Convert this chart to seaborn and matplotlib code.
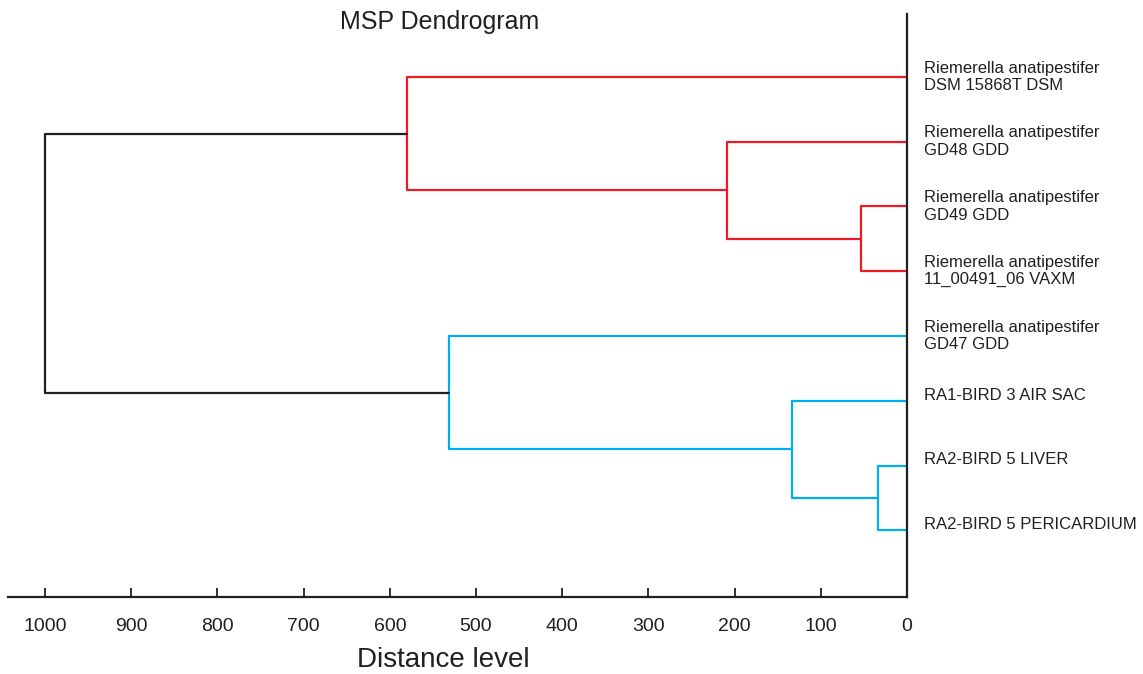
import pandas as pd
import seaborn as sns
import matplotlib.pyplot as plt

# leaf labels, top to bottom
leaf_labels = [
    "Riemerella anatipestifer\nDSM 15868T DSM",
    "Riemerella anatipestifer\nGD48 GDD",
    "Riemerella anatipestifer\nGD49 GDD",
    "Riemerella anatipestifer\n11_00491_06 VAXM",
    "Riemerella anatipestifer\nGD47 GDD",
    "RA1-BIRD 3 AIR SAC",
    "RA2-BIRD 5 LIVER",
    "RA2-BIRD 5 PERICARDIUM",
]

# linkage: child a, child b, distance level (new nodes numbered from 8)
merge_left = [2, 1, 0, 6, 5, 4, 10]
merge_right = [3, 8, 9, 7, 11, 12, 13]
merge_height = [53, 209, 580, 34, 134, 531, 1000]
merge_cluster = ["red", "red", "red", "blue", "blue", "blue", "root"]

palette = {"red": "#ED1C24", "blue": "#00AEEF", "root": "#231F20"}

# build the elbow segments
node_x = {i: 0.0 for i in range(len(leaf_labels))}
node_y = {i: float(i + 1) for i in range(len(leaf_labels))}
rows = []
for k, (a, b, h, c) in enumerate(zip(merge_left, merge_right, merge_height, merge_cluster)):
    pts = [(node_x[a], node_y[a]), (h, node_y[a]), (h, node_y[b]), (node_x[b], node_y[b])]
    for order, (px, py) in enumerate(pts):
        rows.append({"seg": k, "order": order, "x": px, "y": py, "cluster": c})
    new = len(leaf_labels) + k
    node_x[new] = h
    node_y[new] = (node_y[a] + node_y[b]) / 2
df = pd.DataFrame(rows)

sns.set_style("white")
plt.rcParams['font.family'] = ['Liberation Sans', 'DejaVu Sans']

fig = plt.figure(figsize=(11.43, 6.74), dpi=100)
ax = fig.add_axes([8 / 1143, 77 / 674, 899 / 1143, 583 / 674])

sns.lineplot(data=df, x="x", y="y", units="seg", hue="cluster", palette=palette,
             estimator=None, sort=False, lw=1.6, legend=False, ax=ax)

ax.set_xlim(1043, 0)
ax.set_ylim(9.03, 0.03)
ax.set_xticks(range(0, 1001, 100))
ax.set_yticks([])
ax.tick_params(axis="x", bottom=True, direction="in", length=6.5, width=1.3, pad=15,
               labelsize=14, colors="#231F20")

for side in ["left", "top"]:
    ax.spines[side].set_visible(False)
for side in ["bottom", "right"]:
    ax.spines[side].set_color("#231F20")
    ax.spines[side].set_linewidth(1.6)

ax.set_ylabel("")
ax.set_xlabel("Distance level", fontsize=20, color="#231F20")
ax.xaxis.label.set_va("center")
ax.xaxis.set_label_coords(0.484, -0.108)

for i, lab in enumerate(leaf_labels):
    # single-line labels sit a little above their branch in the original
    dy = 0 if "\n" in lab else 4
    ax.annotate(lab, xy=(0, i + 1), xytext=(12, dy), textcoords="offset points",
                ha="left", va="center", fontsize=12, color="#231F20",
                annotation_clip=False)

fig.text(440 / 1143, 1 - 22 / 674, "MSP Dendrogram", ha="center", va="center",
         fontsize=18, color="#231F20")

fig.savefig("out.png", dpi=100)
